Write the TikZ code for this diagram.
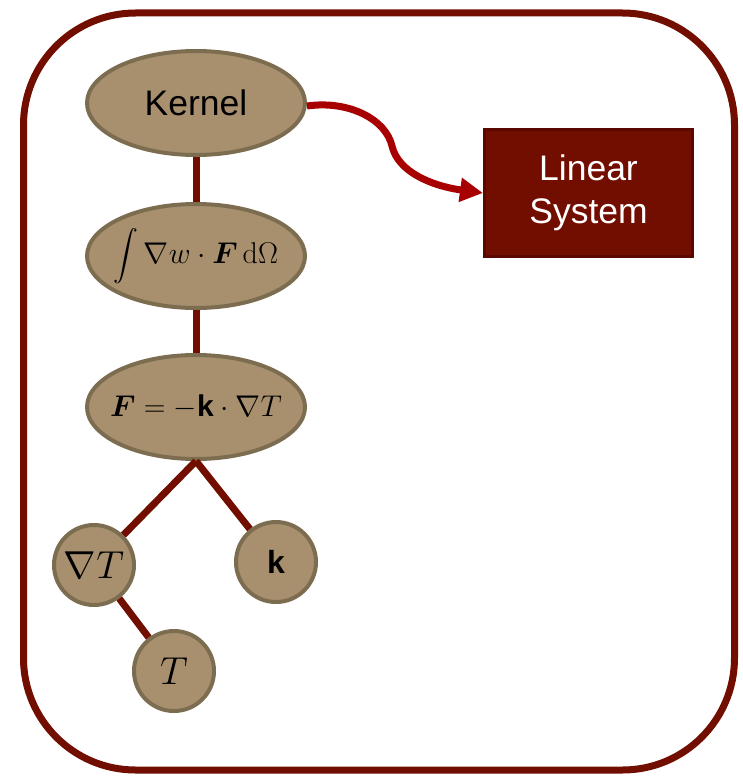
\RequirePackage{fix-cm}
\documentclass[tikz,border=0pt]{standalone}
\usepackage{fontspec}
\setsansfont{Liberation Sans}
\usepackage{amsmath}
\usetikzlibrary{shapes.geometric,arrows.meta}
\definecolor{frameR}{RGB}{114,14,0}
\definecolor{tanfill}{RGB}{168,144,110}
\definecolor{tanedge}{RGB}{125,109,80}
\definecolor{arrowR}{RGB}{168,0,0}
\definecolor{boxedge}{RGB}{90,8,0}
\tikzset{
  tanell/.style={ellipse, draw=tanedge, fill=tanfill, line width=4pt,
    minimum width=218pt, minimum height=104pt, inner sep=0pt},
  tancirc/.style={circle, draw=tanedge, fill=tanfill, line width=4pt,
    minimum size=80pt, inner sep=0pt},
  edge/.style={draw=frameR, line width=7pt},
  bigtxt/.style={font=\fontsize{30}{36}\selectfont},
  circtxt/.style={font=\fontsize{39}{46}\selectfont},
}
\begin{document}
\begin{tikzpicture}[x=1pt,y=-1pt]
\useasboundingbox (0,0) rectangle (742,776);
\draw[frameR, line width=7pt, rounded corners=112pt] (23.5,13) rectangle (734.5,770);
\node[tanell] (kernel) at (196,103) {\makebox[0pt]{\sffamily\fontsize{35.5}{42}\selectfont Kernel}};
\node[tanell, bigtxt] (int) at (196,256) {\makebox[0pt]{$\displaystyle\int \nabla w\cdot\boldsymbol{F}\,\mathrm{d}\Omega$}};
\node[tanell, bigtxt] (flux) at (196,407) {\makebox[0pt]{$\boldsymbol{F}=-\text{\sffamily\bfseries k}\cdot\nabla T$}};
\node[tancirc, circtxt] (grad) at (94,565) {$\nabla T$};
\node[tancirc] (kk) at (276,562) {\sffamily\bfseries\fontsize{32}{38}\selectfont k};
\node[tancirc, circtxt] (tt) at (174,671) {$T$};
\node[draw=boxedge, fill=frameR, line width=3pt, minimum width=208pt, minimum height=127pt,
  text=white, align=center, font=\sffamily\fontsize{35.5}{43}\selectfont] (ls) at (588.5,193) {Linear\\System};
\draw[edge] (kernel) -- (int);
\draw[edge] (int) -- (flux);
\draw[edge] (flux.south) -- (grad);
\draw[edge] (flux.south) -- (kk);
\draw[edge] (grad) -- (tt);
\draw[arrowR, line width=7pt, -{Triangle[length=23pt,width=23pt]}]
  ([yshift=-3pt]kernel.east) .. controls (350,100) and (386,120) .. (392,146)
  .. controls (398,172) and (432,186) .. (ls.west);
\end{tikzpicture}
\end{document}
